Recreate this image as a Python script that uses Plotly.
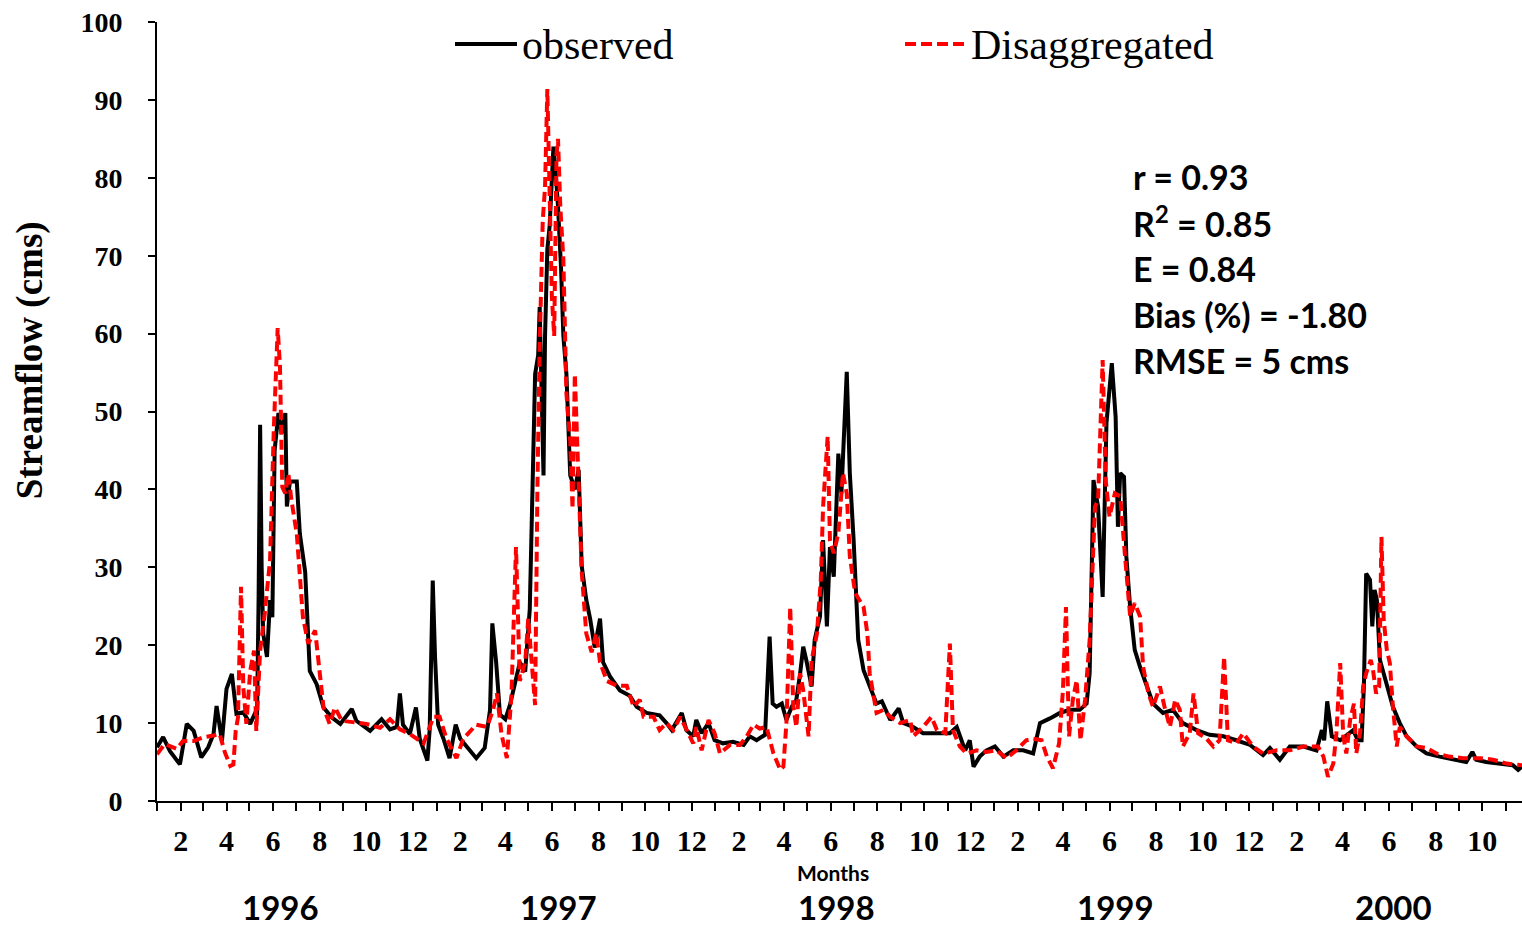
import pandas as pd
import plotly.graph_objects as go

START = pd.Timestamp("1996-01-01")

# observed daily streamflow (cms): day offset from 1996-01-01, value
obs_days = [0, 8, 17, 30, 39, 48, 58, 67, 74, 78, 85, 91, 98, 104, 113, 122, 128, 131, 133, 135, 137, 139,
            144, 148, 151, 154, 159, 163, 168, 170, 174, 183, 187, 194, 200, 209, 218, 229, 240, 255, 261,
            279, 294, 305, 314, 318, 322, 331, 339, 344, 354, 357, 361, 364, 368, 375, 383, 391, 397, 405,
            418, 429, 436, 439, 444, 449, 456, 462, 469, 475, 482, 488, 495, 499, 501, 506, 508, 511, 514,
            519, 522, 525, 529, 532, 536, 541, 547, 552, 556, 562, 567, 573, 580, 584, 593, 606, 619, 628,
            641, 658, 667, 674, 687, 693, 702, 706, 713, 722, 730, 741, 754, 768, 776, 785, 796, 799, 802,
            806, 811, 818, 824, 831, 837, 842, 846, 850, 857, 861, 868, 872, 877, 881, 886, 892, 896, 903,
            907, 912, 918, 925, 933, 942, 949, 960, 971, 977, 990, 1003, 1021, 1038, 1047, 1058, 1064,
            1069, 1077, 1086, 1097, 1108, 1121, 1134, 1147, 1156, 1169, 1182, 1195, 1208, 1217, 1221,
            1226, 1232, 1238, 1243, 1250, 1255, 1258, 1261, 1266, 1269, 1274, 1280, 1287, 1295, 1304,
            1317, 1330, 1343, 1361, 1378, 1396, 1413, 1431, 1448, 1457, 1470, 1483, 1501, 1518, 1525,
            1528, 1532, 1538, 1549, 1562, 1566, 1572, 1577, 1580, 1583, 1588, 1591, 1594, 1597, 1601,
            1610, 1618, 1627, 1636, 1649, 1662, 1679, 1697, 1714, 1722, 1727, 1740, 1758, 1775, 1782, 1787]
obs_vals = [6.9, 8.2, 6.4, 4.7, 9.9, 9.0, 5.6, 6.9, 8.6, 12.2, 7.7, 14.4, 16.3, 11.2, 11.4, 9.9, 11.2, 11.0,
            26.0, 48.3, 30.0, 21.5, 18.5, 25.8, 23.6, 45.0, 49.8, 47.2, 49.8, 37.8, 41.0, 41.0, 34.3, 29.4,
            16.7, 15.0, 12.0, 10.7, 9.9, 11.8, 10.3, 9.0, 10.5, 9.2, 9.5, 13.8, 9.8, 8.6, 12.0, 8.0, 5.2,
            9.2, 28.3, 18.5, 9.8, 8.0, 5.5, 9.8, 8.0, 7.1, 5.5, 6.8, 11.7, 22.8, 17.8, 11.1, 10.5, 12.3,
            15.4, 17.8, 16.6, 24.6, 54.8, 57.2, 63.4, 41.8, 59.7, 70.8, 73.8, 84.0, 80.6, 76.3, 68.3, 59.7,
            54.8, 41.8, 40.0, 42.5, 30.2, 25.8, 23.4, 19.7, 23.4, 17.8, 16.0, 14.2, 13.5, 12.1, 11.3, 11.0,
            10.0, 9.1, 11.3, 9.1, 8.3, 10.4, 8.7, 10.0, 7.8, 7.4, 7.6, 7.2, 8.3, 7.8, 8.5, 16.4, 21.1, 12.5,
            12.1, 12.5, 10.4, 12.1, 13.0, 16.4, 19.8, 18.1, 14.7, 20.7, 23.7, 33.5, 22.4, 32.6, 28.8, 44.6,
            39.5, 55.1, 42.1, 33.5, 20.7, 16.8, 14.7, 12.5, 12.8, 10.4, 11.9, 10.0, 9.5, 8.7, 8.7, 8.7, 9.5,
            6.5, 7.8, 4.4, 5.7, 6.5, 7.0, 5.7, 6.5, 6.5, 6.1, 10.0, 10.6, 11.3, 11.7, 11.7, 12.5, 16.4,
            41.2, 37.8, 26.2, 48.5, 56.2, 49.3, 35.2, 42.1, 41.6, 31.4, 24.9, 19.4, 17.2, 15.1, 12.5, 11.3,
            11.7, 10.0, 9.1, 8.5, 8.3, 7.8, 7.2, 5.9, 6.8, 5.3, 7.0, 7.0, 6.5, 9.1, 7.8, 12.8, 8.3, 7.8,
            8.7, 9.1, 7.8, 7.8, 14.7, 29.2, 28.4, 22.4, 27.1, 25.8, 18.1, 14.7, 12.1, 10.0, 8.3, 7.0, 6.1,
            5.7, 5.3, 5.0, 6.3, 5.3, 5.0, 4.8, 4.6, 4.0, 4.4]

# disaggregated daily streamflow (cms)
dis_days = [0, 10, 26, 34, 48, 61, 74, 82, 89, 96, 100, 103, 106, 110, 113, 117, 122, 127, 130, 135, 141,
            148, 153, 158, 161, 164, 168, 172, 176, 183, 191, 198, 207, 213, 218, 226, 233, 242, 257, 274,
            292, 305, 318, 331, 349, 362, 370, 379, 392, 401, 418, 432, 440, 445, 451, 458, 464, 470, 475,
            482, 486, 490, 495, 498, 501, 505, 508, 511, 514, 517, 520, 523, 525, 528, 532, 536, 541, 544,
            547, 552, 556, 562, 569, 575, 580, 589, 602, 615, 624, 632, 637, 650, 658, 667, 676, 685, 693,
            702, 706, 713, 722, 730, 737, 750, 763, 772, 781, 789, 798, 807, 816, 820, 824, 829, 833, 837,
            842, 846, 853, 857, 864, 869, 872, 878, 881, 886, 892, 898, 903, 907, 914, 925, 930, 933, 942,
            951, 960, 973, 986, 990, 1003, 1014, 1021, 1032, 1038, 1042, 1051, 1060, 1073, 1086, 1099,
            1112, 1125, 1138, 1147, 1158, 1165, 1173, 1181, 1186, 1190, 1194, 1199, 1204, 1209, 1215,
            1221, 1228, 1232, 1238, 1242, 1247, 1254, 1261, 1267, 1274, 1280, 1287, 1291, 1298, 1304,
            1313, 1319, 1326, 1333, 1339, 1343, 1352, 1357, 1363, 1374, 1383, 1391, 1397, 1402, 1413,
            1422, 1435, 1448, 1466, 1483, 1501, 1520, 1527, 1533, 1540, 1544, 1549, 1553, 1557, 1562,
            1567, 1570, 1575, 1579, 1583, 1589, 1592, 1596, 1600, 1603, 1606, 1610, 1614, 1618, 1623,
            1627, 1636, 1649, 1662, 1675, 1692, 1710, 1732, 1749, 1767, 1787]
dis_vals = [6.0, 7.3, 6.7, 7.7, 7.7, 8.2, 8.4, 8.6, 6.2, 4.5, 4.7, 9.0, 10.7, 27.5, 14.6, 9.9, 16.7, 19.3,
            9.0, 19.3, 24.0, 30.9, 48.0, 60.7, 55.8, 40.3, 39.5, 42.0, 38.6, 34.3, 23.6, 20.2, 21.9, 16.3,
            12.0, 9.9, 12.0, 10.3, 10.1, 9.9, 9.4, 10.5, 9.2, 8.6, 7.4, 10.8, 10.8, 8.0, 5.5, 8.0, 9.8,
            9.5, 11.7, 13.8, 8.6, 5.5, 13.5, 32.6, 15.4, 17.8, 23.4, 18.5, 12.3, 40.0, 58.5, 74.5, 78.8,
            91.4, 76.9, 64.6, 59.7, 83.0, 85.0, 76.3, 69.5, 52.3, 46.2, 37.5, 54.8, 40.0, 29.5, 21.5, 19.1,
            21.5, 17.8, 15.4, 14.8, 14.8, 12.1, 13.0, 10.8, 10.8, 9.1, 10.0, 9.1, 10.8, 9.1, 7.4, 9.5, 6.5,
            10.4, 8.7, 6.1, 7.2, 7.2, 8.3, 9.8, 9.3, 9.5, 6.1, 4.0, 4.4, 10.0, 24.9, 12.1, 9.5, 16.4, 14.2,
            8.3, 18.1, 21.5, 28.4, 37.8, 46.8, 33.5, 31.8, 34.4, 42.1, 39.5, 31.4, 26.7, 24.9, 21.5, 16.4,
            11.3, 11.7, 10.8, 10.0, 10.4, 8.3, 9.5, 10.8, 9.1, 8.7, 20.2, 9.1, 7.0, 6.1, 6.5, 6.3, 6.5,
            5.5, 6.5, 7.8, 8.0, 7.8, 5.7, 4.2, 7.4, 14.2, 24.9, 8.3, 13.0, 15.5, 7.8, 13.0, 20.7, 37.8,
            38.6, 56.6, 41.2, 36.5, 39.5, 39.1, 31.8, 23.7, 25.4, 23.7, 17.2, 13.8, 12.1, 14.7, 12.1, 9.5,
            13.0, 11.7, 7.0, 8.7, 13.8, 8.7, 8.0, 7.0, 7.8, 18.5, 7.8, 7.4, 8.7, 7.0, 6.1, 6.5, 6.5, 7.0,
            7.0, 5.7, 3.1, 4.8, 8.7, 17.7, 8.3, 6.1, 10.4, 12.5, 6.1, 8.7, 14.7, 16.4, 18.1, 16.8, 13.8,
            14.7, 33.9, 23.2, 19.4, 17.7, 12.1, 7.0, 9.5, 8.3, 7.0, 6.8, 6.1, 5.7, 5.5, 5.5, 5.3, 4.8, 4.6]

years = ["1996", "1997", "1998", "1999", "2000"]
stats = ["r = 0.93", "R<sup>2</sup> = 0.85", "E = 0.84", "Bias (%) = -1.80", "RMSE = 5 cms"]
END_DAY = 1787

obs_x = START + pd.to_timedelta(obs_days, unit="D")
dis_x = START + pd.to_timedelta(dis_days, unit="D")

months = pd.date_range(START, START + pd.Timedelta(days=END_DAY), freq="MS")
month_text = [str(m.month) if m.month % 2 == 0 else "" for m in months]

fig = go.Figure()
fig.add_trace(go.Scatter(x=obs_x, y=obs_vals, mode="lines", name="observed",
                         line=dict(color="black", width=4), showlegend=False))
fig.add_trace(go.Scatter(x=dis_x, y=dis_vals, mode="lines", name="Disaggregated",
                         line=dict(color="#ff0000", width=4, dash="10px,5px"), showlegend=False))

serif = "Liberation Serif"
sans = "Lato"

fig.update_layout(
    width=1522, height=926,
    margin=dict(l=157, r=0, t=22, b=125),
    paper_bgcolor="white", plot_bgcolor="white",
    xaxis=dict(
        range=[START, START + pd.Timedelta(days=END_DAY)],
        tickmode="array", tickvals=months, ticktext=month_text,
        ticks="outside", ticklen=8, tickwidth=2, tickcolor="black",
        showline=True, linewidth=2, linecolor="black", showgrid=False, zeroline=False,
        tickfont=dict(family=serif, size=30, color="black", weight="bold"),
        ticklabelstandoff=4,
    ),
    yaxis=dict(
        range=[0, 100], tickmode="linear", tick0=0, dtick=10,
        ticks="outside", ticklen=7, tickwidth=2, tickcolor="black",
        showline=True, linewidth=2, linecolor="black", showgrid=False, zeroline=False,
        tickfont=dict(family=serif, size=28, color="black", weight="bold"),
        ticklabelstandoff=20,
    ),
)

ann = []
# y-axis title
ann.append(dict(text="Streamflow (cms)", xref="paper", yref="paper", x=-0.093, y=0.566,
                textangle=-90, showarrow=False, xanchor="center", yanchor="middle",
                font=dict(family=serif, size=37, color="black", weight="bold")))
# "Months"
ann.append(dict(text="Months", xref="paper", yref="paper", x=(833 - 157) / 1365, y=-(872 - 801) / 779,
                showarrow=False, xanchor="center", yanchor="middle",
                font=dict(family=sans, size=21, color="black", weight="bold")))
# year labels
year_px = [280, 558, 836, 1115, 1393]
for yr, px in zip(years, year_px):
    ann.append(dict(text=yr, xref="paper", yref="paper", x=(px - 157) / 1365, y=-(907 - 801) / 779,
                    showarrow=False, xanchor="center", yanchor="middle",
                    font=dict(family=sans, size=33, color="black", weight="bold")))
# statistics block
for i, s in enumerate(stats):
    ann.append(dict(text=s, xref="paper", yref="paper", x=(1131 - 157) / 1365,
                    y=(801 - (176 + 46 * i)) / 779, showarrow=False, xanchor="left", yanchor="middle",
                    font=dict(family=sans, size=34, color="black", weight="bold")))
# legend texts
ann.append(dict(text="observed", xref="paper", yref="paper", x=(520 - 157) / 1365, y=(801 - 45) / 779,
                showarrow=False, xanchor="left", yanchor="middle",
                font=dict(family=serif, size=42, color="black")))
ann.append(dict(text="Disaggregated", xref="paper", yref="paper", x=(969 - 157) / 1365, y=(801 - 45) / 779,
                showarrow=False, xanchor="left", yanchor="middle",
                font=dict(family=serif, size=42, color="black")))
fig.update_layout(annotations=ann)

# legend line samples
fig.add_shape(type="line", xref="paper", yref="paper",
              x0=(455 - 157) / 1365, x1=(517 - 157) / 1365, y0=(801 - 44) / 779, y1=(801 - 44) / 779,
              line=dict(color="black", width=4))
fig.add_shape(type="line", xref="paper", yref="paper",
              x0=(905 - 157) / 1365, x1=(968 - 157) / 1365, y0=(801 - 44) / 779, y1=(801 - 44) / 779,
              line=dict(color="#ff0000", width=4, dash="11px,5px"))

fig.write_html("out.html", config={"displayModeBar": False},
               post_script="document.body.style.margin='0';")
